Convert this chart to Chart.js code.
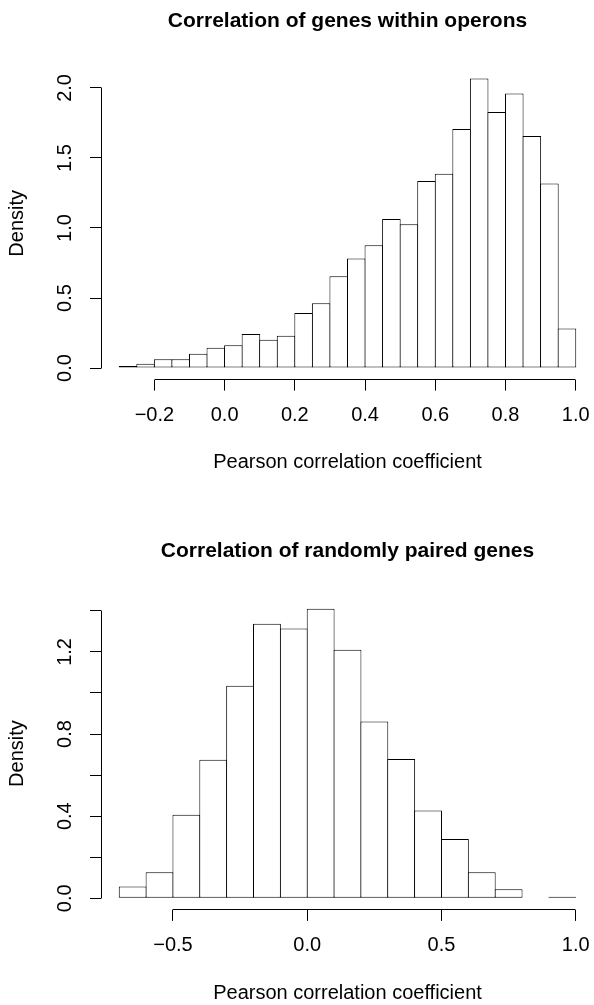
<!DOCTYPE html>
<html>
<head>
<meta charset="utf-8">
<script src="https://cdn.jsdelivr.net/npm/chart.js@4/dist/chart.umd.min.js"></script>
<style>
  body { margin: 0; background: #fff; }
  .panel { position: absolute; left: 0; width: 594px; }
  canvas { display: block; }
</style>
</head>
<body>
<div class="panel" style="top:0px;height:502px"><canvas id="operonChart" width="594" height="502"></canvas></div>
<div class="panel" style="top:502px;height:503px"><canvas id="randomChart" width="594" height="503"></canvas></div>
<script>
// histogram 1: genes within operons (bin width 0.05)
const operonBins = [-0.275, -0.225, -0.175, -0.125, -0.075, -0.025, 0.025, 0.075, 0.125, 0.175,
    0.225, 0.275, 0.325, 0.375, 0.425, 0.475, 0.525, 0.575, 0.625, 0.675,
    0.725, 0.775, 0.825, 0.875, 0.925, 0.975];
const operonDensity = [0.014, 0.031, 0.062, 0.062, 0.102, 0.145, 0.162, 0.243, 0.202, 0.231,
    0.393, 0.462, 0.655, 0.783, 0.876, 1.064, 1.026, 1.336, 1.388, 1.707,
    2.067, 1.829, 1.960, 1.657, 1.317, 0.283];
const operonXTicks = [-0.2, 0, 0.2, 0.4, 0.6, 0.8, 1.0];
const operonXLabels = ['\u22120.2', '0.0', '0.2', '0.4', '0.6', '0.8', '1.0'];
const operonYTicks = [0, 0.5, 1.0, 1.5, 2.0];
const operonYLabels = ['0.0', '0.5', '1.0', '1.5', '2.0'];

// histogram 2: randomly paired genes (bin width 0.1)
const randomBins = [-0.65, -0.55, -0.45, -0.35, -0.25, -0.15, -0.05, 0.05, 0.15,
    0.25, 0.35, 0.45, 0.55, 0.65, 0.75, 0.85, 0.95];
const randomDensity = [0.058, 0.127, 0.407, 0.675, 1.035, 1.337, 1.314, 1.410, 1.210,
    0.861, 0.678, 0.428, 0.289, 0.127, 0.044, 0, 0.008];
const randomXTicks = [-0.5, 0, 0.5, 1.0];
const randomXLabels = ['\u22120.5', '0.0', '0.5', '1.0'];
const randomYTicks = [0, 0.2, 0.4, 0.6, 0.8, 1.0, 1.2, 1.4];
const randomYLabels = ['0.0', '', '0.4', '', '0.8', '', '1.2', ''];

Chart.defaults.font.family = "'Liberation Sans', Arial, sans-serif";
Chart.defaults.color = '#000';

const AXIS_FONT = 20;

// R-like bits: main title, rotated y labels, axis lines from first to last tick
const rStyle = {
    id: 'rStyle',
    afterDraw(chart, args, opts) {
        const { ctx, chartArea, scales } = chart;
        const xs = scales.x, ys = scales.y;
        const half = v => Math.round(v - 0.5) + 0.5;
        ctx.save();
        ctx.strokeStyle = '#000';
        ctx.lineWidth = 1;
        ctx.beginPath();
        const yb = half(chartArea.bottom);
        ctx.moveTo(half(xs.getPixelForValue(xs.ticks[0].value)), yb);
        ctx.lineTo(half(xs.getPixelForValue(xs.ticks[xs.ticks.length - 1].value)), yb);
        const xl = half(chartArea.left);
        ctx.moveTo(xl, half(ys.getPixelForValue(ys.ticks[0].value)));
        ctx.lineTo(xl, half(ys.getPixelForValue(ys.ticks[ys.ticks.length - 1].value)));
        ctx.stroke();

        ctx.fillStyle = '#000';
        ctx.textAlign = 'center';
        ctx.textBaseline = 'middle';
        ctx.font = AXIS_FONT + "px 'Liberation Sans', Arial, sans-serif";
        ys.ticks.forEach((t, i) => {
            const lab = opts.yLabels[i];
            if (!lab) return;
            ctx.save();
            ctx.translate(chartArea.left - 36, ys.getPixelForValue(t.value));
            ctx.rotate(-Math.PI / 2);
            ctx.fillText(lab, 0, 0);
            ctx.restore();
        });

        ctx.save();
        ctx.translate(chartArea.left - 84, (chartArea.top + chartArea.bottom) / 2);
        ctx.rotate(-Math.PI / 2);
        ctx.fillText(opts.yTitle, 0, 0);
        ctx.restore();

        ctx.font = "bold 21px 'Liberation Sans', Arial, sans-serif";
        ctx.fillText(opts.title, (chartArea.left + chartArea.right) / 2, chartArea.top - 46);
        ctx.restore();
    }
};

function histConfig(bins, density, xTicks, xLabels, yTicks, yLabels, binWidth, title, layout) {
    const lo = bins[0] - binWidth / 2;
    const hi = bins[bins.length - 1] + binWidth / 2;
    const yTop = Math.max(...density);
    return {
        type: 'bar',
        data: {
            datasets: [{
                data: bins.map((b, i) => ({ x: b, y: density[i] })),
                backgroundColor: '#fff',
                borderColor: '#000',
                borderWidth: 1,
                borderSkipped: false,
                barPercentage: 1,
                categoryPercentage: layout.overlap
            }]
        },
        options: {
            responsive: false,
            animation: false,
            events: [],
            layout: { padding: { top: layout.areaTop, left: 0, right: 0, bottom: 0 } },
            plugins: {
                legend: { display: false },
                tooltip: { enabled: false },
                rStyle: { title: title, yTitle: 'Density', yLabels: yLabels }
            },
            scales: {
                x: {
                    type: 'linear',
                    offset: false,
                    bounds: 'data',
                    min: lo - 0.04 * (hi - lo),
                    max: hi + 0.04 * (hi - lo),
                    afterBuildTicks: s => { s.ticks = xTicks.map(v => ({ value: v })); },
                    afterFit: s => {
                        s.height = layout.xHeight;
                        s.paddingLeft = 0;
                        s.paddingRight = 0;
                    },
                    grid: { offset: false, drawOnChartArea: false, drawTicks: true, tickLength: 11, color: '#000', lineWidth: 1 },
                    border: { display: false },
                    ticks: {
                        autoSkip: false, maxRotation: 0, padding: 13,
                        font: { size: AXIS_FONT },
                        callback: (v, i) => xLabels[i]
                    },
                    title: {
                        display: true,
                        text: 'Pearson correlation coefficient',
                        font: { size: AXIS_FONT },
                        padding: { top: 0, bottom: layout.xTitlePad }
                    }
                },
                y: {
                    type: 'linear',
                    bounds: 'data',
                    min: -0.04 * yTop,
                    max: yTop * 1.04,
                    afterBuildTicks: s => { s.ticks = yTicks.map(v => ({ value: v })); },
                    afterFit: s => {
                        s.width = 101;
                        s.paddingTop = 0;
                        s.paddingBottom = 0;
                    },
                    grid: { drawOnChartArea: false, drawTicks: true, tickLength: 11, color: '#000', lineWidth: 1 },
                    border: { display: false },
                    ticks: { display: false }
                }
            }
        },
        plugins: [rStyle]
    };
}

new Chart(document.getElementById('operonChart'),
    histConfig(operonBins, operonDensity, operonXTicks, operonXLabels, operonYTicks, operonYLabels, 0.05,
        'Correlation of genes within operons',
        { areaTop: 67, xHeight: 122.4, xTitlePad: 27.4, overlap: 1.057 }));

new Chart(document.getElementById('randomChart'),
    histConfig(randomBins, randomDensity, randomXTicks, randomXLabels, randomYTicks, randomYLabels, 0.1,
        'Correlation of randomly paired genes',
        { areaTop: 95.2, xHeight: 95.1, xTitlePad: 0, overlap: 1.037 }));
</script>
</body>
</html>
